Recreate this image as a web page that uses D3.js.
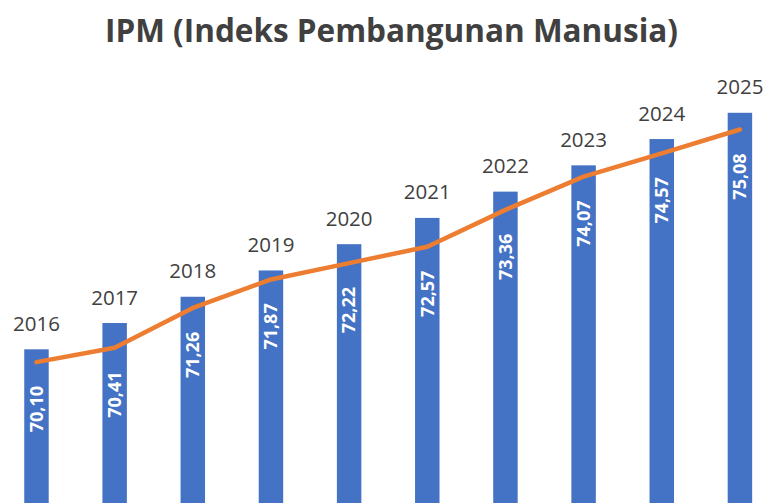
<!DOCTYPE html>
<html>
<head>
<meta charset="utf-8">
<script src="https://cdn.jsdelivr.net/npm/d3@7"></script>
<style>
  html, body { margin: 0; padding: 0; background: #ffffff; overflow: hidden; }
  svg { display: block; }
</style>
</head>
<body>
<script>
// ---- Data ----
const years = [2016, 2017, 2018, 2019, 2020, 2021, 2022, 2023, 2024, 2025];
const ipmValues = [70.10, 70.41, 71.26, 71.87, 72.22, 72.57, 73.36, 74.07, 74.57, 75.08];
const chartTitle = "IPM (Indeks Pembangunan Manusia)";

// ---- Layout ----
const W = 765, H = 503;
const plotTop = 86.5, plotBottom = 507;

const svg = d3.select("body").append("svg")
  .attr("width", W).attr("height", H);

const x = d3.scaleBand()
  .domain(years)
  .range([-2.6, 779])
  .paddingInner(0.687)
  .paddingOuter(0.3435);

// primary axis (bars = year) and secondary axis (line = IPM)
const yBar = d3.scaleLinear().domain([2010, 2026]).range([plotBottom, plotTop]);
const yLine = d3.scaleLinear().domain([67, 76]).range([plotBottom, plotTop]);

const cx = d => x(d) + x.bandwidth() / 2;

// Title
svg.append("text")
  .attr("x", 391.5).attr("y", 41.7)
  .attr("text-anchor", "middle")
  .style("font-family", "'Open Sans', sans-serif")
  .style("font-weight", "700")
  .style("font-size", "31.5px")
  .attr("fill", "#404040")
  .text(chartTitle);

// Bars
svg.append("g").selectAll("rect")
  .data(years)
  .join("rect")
  .attr("x", d => x(d))
  .attr("width", x.bandwidth())
  .attr("y", d => yBar(d))
  .attr("height", d => plotBottom - yBar(d))
  .attr("fill", "#4472C4");

// Year labels above bars
svg.append("g").selectAll("text")
  .data(years)
  .join("text")
  .attr("x", d => cx(d))
  .attr("y", d => yBar(d) - 18.5)
  .attr("text-anchor", "middle")
  .style("font-family", "'Open Sans', sans-serif")
  .style("font-size", "20.5px")
  .attr("fill", "#404040")
  .text(d => d);

// Line
const lineData = years.map((y, i) => ({ year: y, v: ipmValues[i] }));
svg.append("path")
  .datum(lineData)
  .attr("fill", "none")
  .attr("stroke", "#ED7D31")
  .attr("stroke-width", 4.5)
  .attr("stroke-linejoin", "round")
  .attr("stroke-linecap", "round")
  .attr("d", d3.line().x(d => cx(d.year)).y(d => yLine(d.v)));

// Value labels (rotated, below line points)
svg.append("g").selectAll("text")
  .data(lineData)
  .join("text")
  .attr("transform", d => `translate(${cx(d.year)},${yLine(d.v) + 47}) rotate(-90)`)
  .attr("text-anchor", "middle")
  .attr("dy", "0.35em")
  .style("font-family", "'Open Sans', sans-serif")
  .style("font-weight", "700")
  .style("font-size", "18px")
  .attr("fill", "#ffffff")
  .text(d => d.v.toFixed(2).replace(".", ","));
</script>
</body>
</html>
